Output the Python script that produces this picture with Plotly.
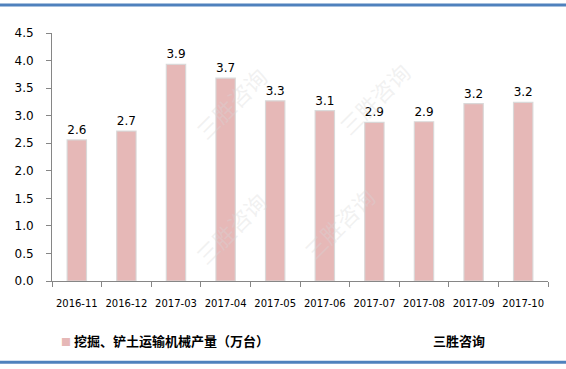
import plotly.graph_objects as go

categories = ["2016-11", "2016-12", "2017-03", "2017-04", "2017-05",
              "2017-06", "2017-07", "2017-08", "2017-09", "2017-10"]
values = [2.56, 2.72, 3.93, 3.68, 3.27, 3.09, 2.88, 2.89, 3.22, 3.24]
series_name = "挖掘、铲土运输机械产量（万台）"
source_text = "三胜咨询"
y_ticks = [0.0, 0.5, 1.0, 1.5, 2.0, 2.5, 3.0, 3.5, 4.0, 4.5]

BAR = "#E6B8B7"
FONT = "DejaVu Sans, Verdana, sans-serif"
CJK = "Noto Sans CJK SC"

fig = go.Figure()
fig.add_trace(go.Bar(
    x=categories, y=values, name=series_name,
    marker=dict(color=BAR, line=dict(color="rgba(215,215,215,0.9)", width=1.2)),
    text=[f"{v:.1f}" for v in values], textposition="outside",
    textfont=dict(family=FONT, size=12, color="#000000"),
    cliponaxis=False, showlegend=False,
))

fig.update_layout(
    width=566, height=369,
    margin=dict(l=52, r=18, t=33, b=88),
    paper_bgcolor="white", plot_bgcolor="white",
    bargap=0.61,
    xaxis=dict(
        type="category", showgrid=False, showline=True, linecolor="#868686",
        linewidth=1, ticks="outside", ticklen=5, tickcolor="#868686",
        tickson="boundaries", tickangle=0,
        tickfont=dict(family=FONT, size=10, color="#000000"),
        ticklabelstandoff=13,
    ),
    yaxis=dict(
        range=[0, 4.5], tickvals=y_ticks, tickformat=".1f",
        showgrid=False, showline=True, linecolor="#868686", linewidth=1,
        ticks="outside", ticklen=5, tickcolor="#868686",
        tickfont=dict(family=FONT, size=12, color="#000000"),
        zeroline=False, ticklabelstandoff=10,
    ),
)

# Watermarks
for (x, y) in [(0.36, 0.90), (0.65, 0.92), (0.36, 0.03), (0.67, 0.05)]:
    fig.add_annotation(x=x, y=y, xref="paper", yref="paper", text="三胜咨询",
                       showarrow=False, textangle=-45,
                       font=dict(family=CJK, size=22, color="rgba(215,215,215,0.35)"))

# Legend & source
fig.add_annotation(
    x=0.015, y=-0.24, xref="paper", yref="paper", xanchor="left", yanchor="middle",
    text=f"<span style='color:{BAR}; font-size:10px'>■</span> <b>{series_name}</b>",
    showarrow=False, font=dict(family=CJK, size=13, color="#000000"))
fig.add_annotation(
    x=0.765, y=-0.24, xref="paper", yref="paper", xanchor="left", yanchor="middle",
    text=f"<b>{source_text}</b>", showarrow=False,
    font=dict(family=CJK, size=13, color="#000000"))

# Top & bottom border lines
fig.add_shape(type="line", xref="paper", yref="paper", x0=-0.11, x1=1.04, y0=1.113, y1=1.113,
              line=dict(color="#4F81BD", width=3))
fig.add_shape(type="line", xref="paper", yref="paper", x0=-0.11, x1=1.04, y0=-0.328, y1=-0.328,
              line=dict(color="#4F81BD", width=3))

fig.write_html("out.html")
